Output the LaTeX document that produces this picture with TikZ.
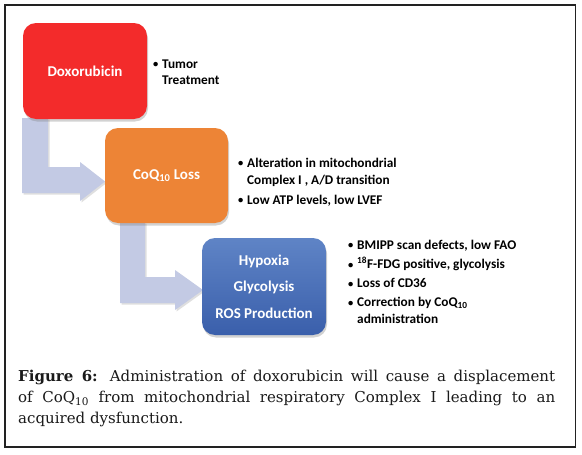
\documentclass[tikz,border=0pt]{standalone}
\usepackage{fontspec}
\setmainfont{DejaVu Serif}
\newfontfamily\boxfont{Carlito}
\usetikzlibrary{shadows}
\definecolor{redbox}{HTML}{F32B2B}
\definecolor{orangebox}{HTML}{ED8436}
\definecolor{bluetop}{HTML}{5F84C6}
\definecolor{bluebot}{HTML}{3A5FAB}
\definecolor{arrowfill}{HTML}{C3CAE4}
\definecolor{framecol}{HTML}{222222}
\definecolor{captext}{HTML}{1A1A1A}
\tikzset{
  stagebox/.style={rounded corners=13pt, minimum width=124pt, minimum height=96pt,
    inner sep=0pt, text=white, align=center,
    font=\boxfont\bfseries\fontsize{15}{26.5}\selectfont,
    drop shadow={opacity=0.35, shadow xshift=1pt, shadow yshift=-2.5pt}},
  bigarrow/.style={fill=arrowfill, draw=none,
    drop shadow={opacity=0.25, shadow xshift=1.5pt, shadow yshift=-1.5pt}},
  bulletlist/.style={anchor=base west, inner sep=0pt,
    font=\boxfont\bfseries\fontsize{13.3}{17}\selectfont},
}
\newcommand{\bul}{\makebox[9pt][l]{\raisebox{0.6pt}{\fontsize{10.5}{10}\selectfont •}}}
\newcommand{\ind}{\hspace*{9pt}}
\begin{document}
\begin{tikzpicture}[x=1pt,y=-1pt]
\useasboundingbox (0,0) rectangle (582,455);
\fill[white] (0,0) rectangle (582,455);
\draw[framecol, line width=1.1pt] (5,5) rectangle (575.5,447);

% arrows
\fill[bigarrow] (22,118) -- (48,118) -- (48,167) -- (80,167) -- (80,162) -- (105,181.5)
  -- (80,201) -- (80,193) -- (22,193) -- cycle;
\fill[bigarrow] (120,222) -- (145,222) -- (145,277) -- (175,277) -- (175,270) -- (203,290)
  -- (175,310) -- (175,303) -- (120,303) -- cycle;

% boxes
\node[stagebox, fill=redbox] (dox) at (85,71) {Doxorubicin};
\node[stagebox, fill=orangebox, minimum width=123pt, minimum height=95pt] (coq) at (166.5,175.5) {CoQ\textsubscript{10} Loss};
\node[stagebox, top color=bluetop, bottom color=bluebot, minimum height=97pt] (hyp) at (264,286.5)
  {Hypoxia\\Glycolysis\\ROS Production};

% bullet lists
\node[bulletlist] (l1) at (153,68)
  {\begin{tabular}[t]{@{}l@{}}\bul Tumor\\\ind Treatment\end{tabular}};
\node[bulletlist] (l2) at (238,167.3)
  {\begin{tabular}[t]{@{}l@{}}\bul Alteration in mitochondrial\\\ind Complex I , A/D transition\\[3pt]\bul Low ATP levels, low LVEF\end{tabular}};
\node[bulletlist, font=\boxfont\bfseries\fontsize{13.3}{16.5}\selectfont] (l3) at (348,249)
  {\begin{tabular}[t]{@{}l@{}}\bul BMIPP scan defects, low FAO\\[3pt]\bul \textsuperscript{18}F-FDG positive, glycolysis\\[2.5pt]\bul Loss of CD36\\[2.5pt]\bul Correction by CoQ\textsubscript{10}\\\ind administration\end{tabular}};

% caption
\node[anchor=north west, text width=537pt, align=justify, inner sep=0pt, text=captext,
  font=\fontsize{15}{21}\selectfont] (cap) at (18,370)
  {\textbf{Figure 6:} Administration of doxorubicin will cause a displacement\linebreak
   of CoQ\textsubscript{10} from mitochondrial respiratory Complex I leading to an\linebreak
   acquired dysfunction.};
\end{tikzpicture}
\end{document}
